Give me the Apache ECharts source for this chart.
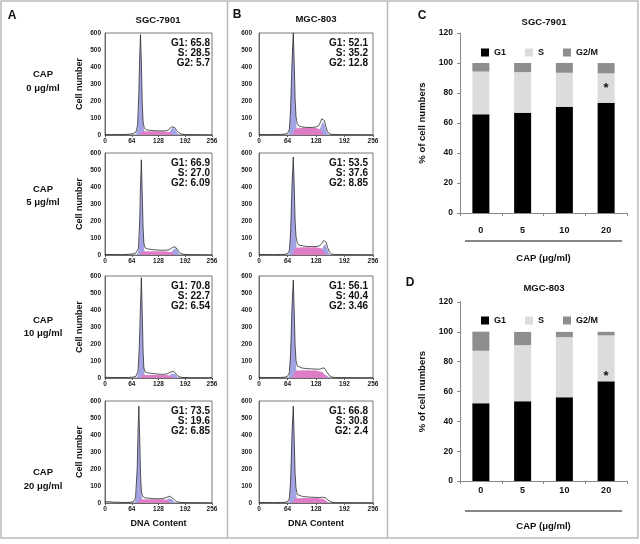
<!DOCTYPE html>
<html><head><meta charset="utf-8">
<script src="https://cdn.jsdelivr.net/npm/echarts@6/dist/echarts.min.js"></script>
<style>html,body{margin:0;padding:0;background:#fff}#c{width:640px;height:544px}</style>
</head><body><div id="c"></div>
<script>
// ---------- DATA ----------
const cellLines = ['SGC-7901', 'MGC-803'];
const doses = ['0', '5', '10', '20'];
const doseLabels = ['0 μg/ml', '5 μg/ml', '10 μg/ml', '20 μg/ml'];
const phaseNames = ['G1', 'S', 'G2/M'];
// cell cycle percentages (text shown in the histograms, also the stacked bars)
const sgcG1 = ['65.8', '66.9', '70.8', '73.5'];
const sgcS  = ['28.5', '27.0', '22.7', '19.6'];
const sgcG2 = ['5.7', '6.09', '6.54', '6.85'];
const mgcG1 = ['52.1', '53.5', '56.1', '66.8'];
const mgcS  = ['35.2', '37.6', '40.4', '30.8'];
const mgcG2 = ['12.8', '8.85', '3.46', '2.4'];
const starIndex = 3; // significant dose (20 μg/ml)

// histogram axes
const dnaTicks = [0, 64, 128, 192, 256];
const cellTicks = [0, 100, 200, 300, 400, 500, 600];
const pctTicks = [0, 20, 40, 60, 80, 100, 120];

// SGC-7901 histograms: raw curve, G1 fit, S fit, G2 fit  ([channel, count])
const a1Raw = [[0,3],[16,2],[32,3],[48,3],[60,5],[68,10],[74,16],[78,60],[81,250],[83,470],[85,590],[87,430],[89,200],[91,80],[94,40],[100,30],[110,27],[120,25],[130,24],[140,24],[148,26],[154,34],[159,48],[163,55],[167,44],[171,28],[176,14],[182,6],[190,3],[210,2],[256,1]];
const a1G1 = [[74,0],[78,40],[81,220],[83,430],[85,540],[87,400],[89,180],[92,50],[96,0]];
const a1S  = [[82,0],[88,20],[110,22],[140,21],[155,18],[163,0]];
const a1G2 = [[148,0],[153,10],[158,32],[163,45],[168,32],[173,10],[178,0]];

const a2Raw = [[0,3],[20,3],[40,2],[56,4],[66,6],[74,12],[80,40],[83,200],[85,420],[87,560],[89,380],[91,170],[93,70],[96,42],[102,36],[112,32],[122,30],[132,28],[142,28],[152,30],[158,38],[163,46],[168,48],[172,38],[176,22],[181,10],[188,4],[205,2],[256,1]];
const a2G1 = [[77,0],[81,40],[84,250],[87,520],[89,350],[91,150],[94,30],[97,0]];
const a2S  = [[84,0],[90,20],[120,22],[150,20],[160,14],[168,0]];
const a2G2 = [[152,0],[158,14],[163,30],[168,40],[173,28],[178,8],[183,0]];

const a3Raw = [[0,4],[20,3],[40,3],[56,3],[66,5],[74,10],[79,40],[82,180],[85,430],[87,590],[89,400],[91,170],[93,60],[96,35],[102,30],[112,27],[122,24],[132,22],[142,22],[150,26],[156,34],[160,40],[164,40],[168,30],[172,18],[177,8],[185,3],[205,2],[256,1]];
const a3G1 = [[76,0],[80,40],[83,240],[87,540],[89,370],[91,140],[94,30],[97,0]];
const a3S  = [[84,0],[90,18],[120,18],[148,17],[158,12],[165,0]];
const a3G2 = [[148,0],[154,12],[159,26],[163,32],[168,24],[173,8],[178,0]];

const a4Raw = [[0,6],[4,12],[10,8],[20,5],[32,4],[48,3],[60,4],[68,8],[73,30],[77,200],[79,420],[81,570],[83,380],[85,170],[87,70],[90,38],[96,30],[106,28],[116,26],[126,25],[136,26],[144,30],[150,36],[155,40],[159,36],[163,26],[168,14],[174,6],[182,3],[200,2],[256,1]];
const a4G1 = [[70,0],[74,30],[77,200],[81,520],[83,350],[85,150],[88,30],[92,0]];
const a4S  = [[78,0],[84,20],[110,22],[140,22],[150,16],[158,0]];
const a4G2 = [[140,0],[146,12],[151,26],[155,32],[160,24],[165,8],[170,0]];

// MGC-803 histograms
const b1Raw = [[0,3],[16,2],[32,3],[48,3],[58,5],[64,10],[68,30],[71,150],[74,420],[77,600],[79,430],[81,220],[83,110],[86,65],[90,52],[96,48],[104,45],[112,44],[120,45],[128,47],[134,55],[138,75],[141,95],[144,105],[147,85],[150,50],[154,20],[159,6],[166,3],[190,2],[256,1]];
const b1G1 = [[66,0],[69,40],[72,250],[75,500],[77,580],[79,420],[81,200],[84,50],[88,0]];
const b1S  = [[74,0],[82,38],[100,42],[125,42],[136,36],[146,0]];
const b1G2 = [[130,0],[135,20],[140,60],[144,80],[148,55],[152,20],[157,0]];

const b2Raw = [[0,3],[16,3],[32,2],[48,3],[58,4],[64,8],[68,25],[71,130],[74,400],[77,576],[79,410],[81,210],[83,110],[86,70],[90,58],[98,54],[108,50],[118,50],[128,50],[136,54],[141,68],[145,85],[148,94],[151,75],[154,45],[158,18],[163,6],[170,3],[195,2],[256,1]];
const b2G1 = [[66,0],[69,35],[72,230],[75,470],[77,550],[79,400],[81,190],[84,45],[88,0]];
const b2S  = [[74,0],[82,42],[100,46],[128,46],[140,40],[150,0]];
const b2G2 = [[134,0],[139,18],[144,50],[148,65],[152,45],[156,15],[161,0]];

const b3Raw = [[0,4],[16,3],[32,3],[48,3],[58,5],[64,10],[68,30],[71,140],[74,410],[77,576],[79,400],[81,200],[83,105],[86,70],[90,60],[98,58],[108,55],[118,54],[128,52],[136,52],[141,56],[146,60],[150,50],[154,30],[158,14],[164,5],[172,3],[195,2],[256,1]];
const b3G1 = [[66,0],[69,35],[72,240],[75,480],[77,560],[79,390],[81,180],[84,45],[88,0]];
const b3S  = [[74,0],[82,42],[100,46],[128,44],[142,35],[154,0]];
const b3G2 = [[136,0],[141,10],[145,22],[148,24],[152,14],[156,4],[160,0]];

const b4Raw = [[0,3],[16,3],[32,2],[48,3],[58,4],[64,8],[68,25],[71,130],[74,400],[77,570],[79,380],[81,180],[83,90],[86,50],[90,40],[98,38],[108,36],[118,34],[128,33],[136,32],[142,34],[146,36],[150,30],[154,18],[158,8],[164,4],[172,2],[256,1]];
const b4G1 = [[66,0],[69,35],[72,230],[75,470],[77,540],[79,370],[81,160],[84,40],[88,0]];
const b4S  = [[74,0],[82,26],[100,30],[130,30],[145,24],[156,0]];
const b4G2 = [[138,0],[143,8],[147,14],[151,10],[156,3],[160,0]];

// ---------- LAYOUT / STYLE ----------
const FONT = '"Liberation Sans", Arial, sans-serif';
const LAV = '#a3a3e4', PINK = '#de7cc6';
const histCols = [{left:105, width:107, ymargin:4, statPad:2}, {left:259, width:114, ymargin:7, statPad:5}];
const histTops = [33, 153, 276, 401];
const histH = 102;
const capY = [[74,88],[189,202],[320,333],[472,486]];

const hists = [
  [a1Raw,a1G1,a1S,a1G2],[a2Raw,a2G1,a2S,a2G2],[a3Raw,a3G1,a3S,a3G2],[a4Raw,a4G1,a4S,a4G2],
  [b1Raw,b1G1,b1S,b1G2],[b2Raw,b2G1,b2S,b2G2],[b3Raw,b3G1,b3S,b3G2],[b4Raw,b4G1,b4S,b4G2]
];
const stats = [[sgcG1,sgcS,sgcG2],[mgcG1,mgcS,mgcG2]];

const grid = [], xAxis = [], yAxis = [], series = [], graphic = [];

hists.forEach((h, i) => {
  const col = i < 4 ? 0 : 1, row = i % 4, c = histCols[col];
  grid.push({left:c.left, top:histTops[row], width:c.width, height:histH, show:true,
    borderColor:'#555', borderWidth:0.8, backgroundColor:'transparent'});
  xAxis.push({gridIndex:i, type:'value', min:dnaTicks[0], max:dnaTicks[dnaTicks.length-1], interval:dnaTicks[1]-dnaTicks[0],
    axisLine:{show:true, lineStyle:{color:'#555', width:0.8}},
    axisTick:{show:true, length:2, lineStyle:{color:'#555'}},
    axisLabel:{fontSize:6.5, fontWeight:'bold', color:'#222', margin:3, fontFamily:FONT},
    splitLine:{show:false},
    name: row === 3 ? 'DNA Content' : '', nameLocation:'middle', nameGap:16,
    nameTextStyle:{fontSize:9, fontWeight:'bold', color:'#111', fontFamily:FONT}});
  yAxis.push({gridIndex:i, type:'value', min:cellTicks[0], max:cellTicks[cellTicks.length-1], interval:cellTicks[1]-cellTicks[0],
    axisLine:{show:true, lineStyle:{color:'#555', width:0.8}},
    axisTick:{show:false},
    axisLabel:{fontSize:6.5, fontWeight:'bold', color:'#222', margin:c.ymargin, fontFamily:FONT},
    splitLine:{show:false},
    name: col === 0 ? 'Cell number' : '', nameLocation:'middle', nameGap:21,
    nameTextStyle:{fontSize:9, fontWeight:'bold', color:'#111', fontFamily:FONT}});
  const base = {type:'line', xAxisIndex:i, yAxisIndex:i, symbol:'none', silent:true, animation:false};
  series.push(Object.assign({}, base, {data:h[1], lineStyle:{width:0}, areaStyle:{color:LAV, opacity:1}}));
  series.push(Object.assign({}, base, {data:h[3], lineStyle:{width:0}, areaStyle:{color:LAV, opacity:1}}));
  series.push(Object.assign({}, base, {data:h[2], lineStyle:{width:0}, areaStyle:{color:PINK, opacity:1}}));
  series.push(Object.assign({}, base, {data:h[0], lineStyle:{width:0.7, color:'#111'}}));
  // stats text
  const st = stats[col], lbl = ['G1: ', 'S: ', 'G2: '];
  for (let k = 0; k < 3; k++) {
    graphic.push({type:'text', x:c.left + c.width - c.statPad, y:histTops[row] + 10 + k * 10.3,
      style:{text: lbl[k] + st[k][row], font:'bold 10px ' + FONT, fill:'#111', align:'right', verticalAlign:'middle'}});
  }
});

// CAP labels
doseLabels.forEach((d, r) => {
  graphic.push({type:'text', x:43, y:capY[r][0], style:{text:'CAP', font:'bold 9.5px ' + FONT, fill:'#111', align:'center', verticalAlign:'middle'}});
  graphic.push({type:'text', x:43, y:capY[r][1], style:{text:d, font:'bold 9.5px ' + FONT, fill:'#111', align:'center', verticalAlign:'middle'}});
});

// bar charts C & D
const barGrids = [{top:33, height:180, labMargin:13, lineY:241, legTop:43, starOff:-8, titleY:22},
                  {top:302, height:179, labMargin:5, lineY:511, legTop:311, starOff:2, titleY:288}];
const barData = [[sgcG1,sgcS,sgcG2],[mgcG1,mgcS,mgcG2]];
const barColors = ['#000000', '#dcdcdc', '#8e8e8e'];
const legends = [];
barGrids.forEach((b, j) => {
  const gi = 8 + j;
  grid.push({left:460, top:b.top, width:167, height:b.height});
  xAxis.push({gridIndex:gi, type:'category', data:doses,
    axisLine:{show:true, lineStyle:{color:'#888', width:1}},
    axisTick:{show:true, length:3, lineStyle:{color:'#888'}},
    axisLabel:{fontSize:9, fontWeight:'bold', color:'#111', margin:b.labMargin, fontFamily:FONT},
    name:'CAP (μg/ml)', nameLocation:'middle', nameGap:40,
    nameTextStyle:{fontSize:9.5, fontWeight:'bold', color:'#111', fontFamily:FONT}});
  yAxis.push({gridIndex:gi, type:'value', min:pctTicks[0], max:pctTicks[pctTicks.length-1], interval:pctTicks[1]-pctTicks[0],
    axisLine:{show:true, lineStyle:{color:'#888', width:1}},
    axisTick:{show:true, length:3, lineStyle:{color:'#888'}},
    axisLabel:{fontSize:8.5, fontWeight:'bold', color:'#111', margin:7, fontFamily:FONT},
    splitLine:{show:false},
    name:'% of cell numbers', nameLocation:'middle', nameGap:33,
    nameTextStyle:{fontSize:9.5, fontWeight:'bold', color:'#111', fontFamily:FONT}});
  phaseNames.forEach((p, k) => {
    const vals = barData[j][k].map((v, idx) => {
      const n = Number(v);
      if (k === 0 && idx === starIndex) {
        return {value:n, label:{show:true, position:'top', distance:0, offset:[0, b.starOff], formatter:'*',
          fontSize:13, fontWeight:'bold', color:'#111', fontFamily:FONT}};
      }
      return n;
    });
    series.push({type:'bar', name:p, stack:'st' + j, xAxisIndex:gi, yAxisIndex:gi, barWidth:17,
      itemStyle:{color:barColors[k]}, data:vals, animation:false});
  });
  legends.push({data:phaseNames, left:476, top:b.legTop, itemWidth:8, itemHeight:8, itemGap:19, icon:'rect',
    selectedMode:false, textStyle:{fontSize:9, fontWeight:'bold', color:'#111', fontFamily:FONT}});
  graphic.push({type:'text', x:544, y:b.titleY, style:{text:cellLines[j], font:'bold 9.5px ' + FONT, fill:'#111', align:'center', verticalAlign:'middle'}});
  graphic.push({type:'line', shape:{x1:465, y1:b.lineY, x2:622, y2:b.lineY}, style:{stroke:'#111', lineWidth:1.2}});
});

// titles, panel letters, frames
graphic.push({type:'text', x:158, y:20, style:{text:cellLines[0], font:'bold 9.5px ' + FONT, fill:'#111', align:'center', verticalAlign:'middle'}});
graphic.push({type:'text', x:316, y:19, style:{text:cellLines[1], font:'bold 9.5px ' + FONT, fill:'#111', align:'center', verticalAlign:'middle'}});
[['A',12,16],['B',237,15],['C',422,16],['D',410,283]].forEach(t => {
  graphic.push({type:'text', x:t[1], y:t[2], style:{text:t[0], font:'bold 12px ' + FONT, fill:'#111', align:'center', verticalAlign:'middle'}});
});
graphic.push({type:'rect', shape:{x:1, y:1, width:637, height:537}, style:{fill:'none', stroke:'#b9b9b9', lineWidth:1.5}});
graphic.push({type:'line', shape:{x1:227.5, y1:1, x2:227.5, y2:538}, style:{stroke:'#b9b9b9', lineWidth:1.5}});
graphic.push({type:'line', shape:{x1:387.5, y1:1, x2:387.5, y2:538}, style:{stroke:'#b9b9b9', lineWidth:1.5}});

const chart = echarts.init(document.getElementById('c'), null, {renderer:'canvas'});
chart.setOption({backgroundColor:'#fff', animation:false, textStyle:{fontFamily:FONT},
  grid, xAxis, yAxis, series, legend:legends, graphic});
</script>
</body></html>
